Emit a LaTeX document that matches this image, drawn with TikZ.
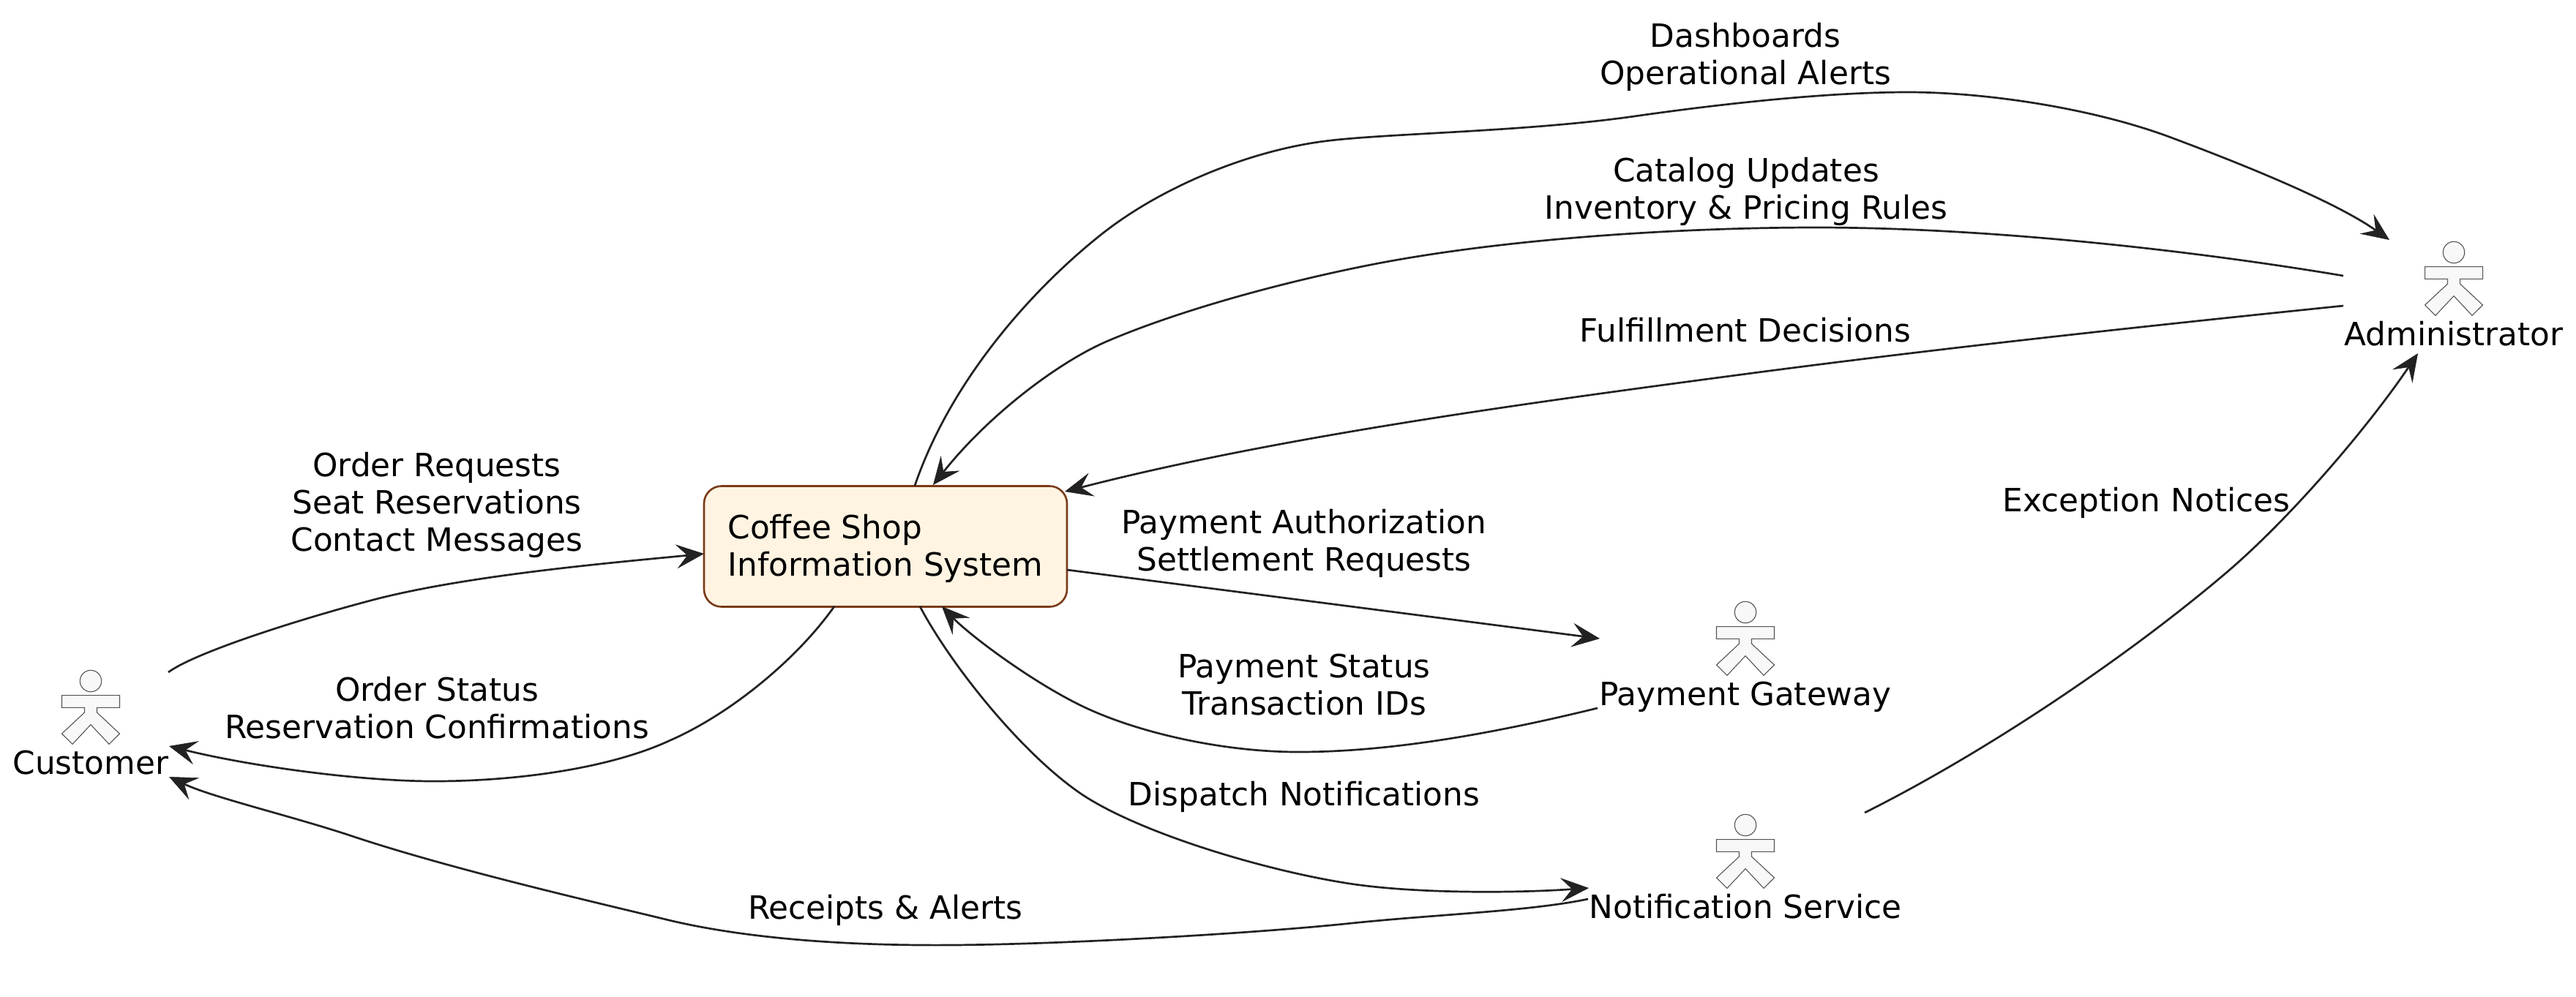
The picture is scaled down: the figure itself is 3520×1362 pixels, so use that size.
\documentclass[tikz,border=0pt]{standalone}
\usepackage{fontspec}
\setmainfont{DejaVu Sans}
\usetikzlibrary{arrows.meta}
\definecolor{inkc}{HTML}{222222}
\definecolor{sysfill}{HTML}{FFF4E2}
\definecolor{sysline}{HTML}{7A3A18}
\definecolor{actfill}{HTML}{F8F8F8}
\definecolor{actline}{HTML}{555555}
\tikzset{
  flow/.style={draw=inkc,line width=1.35pt,-{Stealth[length=19pt,width=16.5pt,inset=7.5pt,line width=0.3pt]}},
  lbl/.style={font=\fontsize{21.9}{25.4}\selectfont,text=black,inner sep=0pt,align=center,anchor=base},
  sysbox/.style={draw=sysline,fill=sysfill,line width=1.3pt,rounded corners=12pt,minimum width=248pt,minimum height=82.5pt,inner sep=0pt,align=left,font=\fontsize{21.9}{25.4}\selectfont},
  actshape/.style={draw=actline,fill=actfill,line width=0.55pt,line join=miter},
}
\newcommand{\actorfig}[4]{%
  \begin{scope}[shift={(#2,#3)}]
    \draw[actshape] (0,0) circle[radius=7.35pt];
    \draw[actshape] (-39.5,19.6) -- (39.5,19.6) -- (39.5,36.3) -- (8.5,36.3) -- (8.5,43) -- (39.5,72) -- (25,86.3) -- (0,59.6) -- (-25,86.3) -- (-39.5,72) -- (-8.5,43) -- (-8.5,36.3) -- (-39.5,36.3) -- cycle;
    \node[lbl] (#1) at (0,127) {#4};
  \end{scope}}
\begin{document}
\begin{tikzpicture}[x=0.5pt,y=-0.5pt]
\useasboundingbox (0,0) rectangle (3520,1362);
\node[sysbox] (sys) at (1210,747) {\rule{0pt}{19.2pt}Coffee Shop\\Information System};
\actorfig{customer}{124}{931}{Customer}
\actorfig{gateway}{2385}{837}{Payment Gateway}
\actorfig{notify}{2385}{1128}{Notification Service}
\actorfig{admin}{3353}{345}{Administrator}
% labels
\node[lbl] (l1) at (2385,115) {Dashboards\\Operational Alerts};
\node[lbl] (l2) at (2386,299) {Catalog Updates\\Inventory \& Pricing Rules};
\node[lbl] (l3) at (2385,467) {Fulfillment Decisions};
\node[lbl] (l4) at (2933,699) {Exception Notices};
\node[lbl] (l5) at (1782,780) {Payment Authorization\\Settlement Requests};
\node[lbl] (l6) at (1782,977) {Payment Status\\Transaction IDs};
\node[lbl] (l7) at (1782,1101) {Dispatch Notifications};
\node[lbl] (l8) at (1210,1256) {Receipts \& Alerts};
\node[lbl] (l9) at (597,753) {Order Requests\\Seat Reservations\\Contact Messages};
\node[lbl] (l10) at (597,1009) {Order Status\\Reservation Confirmations};
% connector ends
\coordinate (sysA) at (1250,664);
\coordinate (adminIn1) at (3265,328);
\coordinate (adminOut1) at (3202,377);
\coordinate (sysB) at (1275,663);
\coordinate (adminOut2) at (3202,418);
\coordinate (sysC) at (1455,672);
\coordinate (custOut) at (230,919);
\coordinate (sysD) at (962,757);
\coordinate (sysE) at (1140,829);
\coordinate (custIn1) at (231,1020);
\coordinate (sysF) at (1257,829);
\coordinate (notifyIn) at (2171,1214);
\coordinate (notifyOut) at (2170,1229);
\coordinate (custIn2) at (231,1062);
\coordinate (sysG) at (1458,779);
\coordinate (gateIn) at (2186,873);
\coordinate (gateOut) at (2183,968);
\coordinate (sysH) at (1287,829);
\coordinate (notifyOut2) at (2548,1111);
\coordinate (adminIn2) at (3304,483);
% connectors
\draw[flow] (sysA)
  .. controls (1302,512) and (1420,387) .. (1508,318)
  .. controls (1590,254) and (1710,205) .. (1814,192.5)
  .. controls (1900,182) and (2090,180) .. (2240,158)
  .. controls (2360,141) and (2500,126) .. (2607,126)
  .. controls (2710,126) and (2860,147) .. (2972,190)
  .. controls (3060,223) and (3190,275) .. (adminIn1);
\draw[flow] (adminOut1)
  .. controls (3000,343) and (2720,311) .. (2481,311)
  .. controls (2330,311) and (2080,322) .. (1878,361)
  .. controls (1750,386) and (1610,425) .. (1514,466)
  .. controls (1448,494) and (1352,566) .. (sysB);
\draw[flow] (adminOut2)
  .. controls (2930,446) and (2670,474) .. (2410,508)
  .. controls (2100,549) and (1750,596) .. (sysC);
\draw[flow] (custOut)
  .. controls (265,893) and (400,849) .. (510,820)
  .. controls (640,786) and (840,769) .. (sysD);
\draw[flow] (sysE)
  .. controls (1090,900) and (1000,975) .. (916,1012)
  .. controls (830,1052) and (700,1068) .. (593,1068)
  .. controls (490,1068) and (340,1047) .. (custIn1);
\draw[flow] (sysF)
  .. controls (1300,910) and (1394,1027) .. (1474,1083)
  .. controls (1550,1136) and (1720,1188) .. (1838,1207)
  .. controls (1930,1222) and (2070,1221) .. (notifyIn);
\draw[flow] (notifyOut)
  .. controls (2090,1246) and (1960,1250) .. (1838,1263)
  .. controls (1700,1277) and (1450,1291) .. (1300,1292)
  .. controls (1170,1293) and (1020,1285) .. (902,1255)
  .. controls (790,1228) and (610,1186) .. (481,1143)
  .. controls (400,1116) and (290,1090) .. (custIn2);
\draw[flow] (sysG) -- (gateIn);
\draw[flow] (gateOut)
  .. controls (2040,1003) and (1900,1028) .. (1774,1028)
  .. controls (1670,1028) and (1550,1001) .. (1474,963)
  .. controls (1404,928) and (1325,868) .. (sysH);
\draw[flow] (notifyOut2)
  .. controls (2710,1030) and (2902,902) .. (3042,783)
  .. controls (3130,708) and (3235,585) .. (adminIn2);
\end{tikzpicture}
\end{document}
